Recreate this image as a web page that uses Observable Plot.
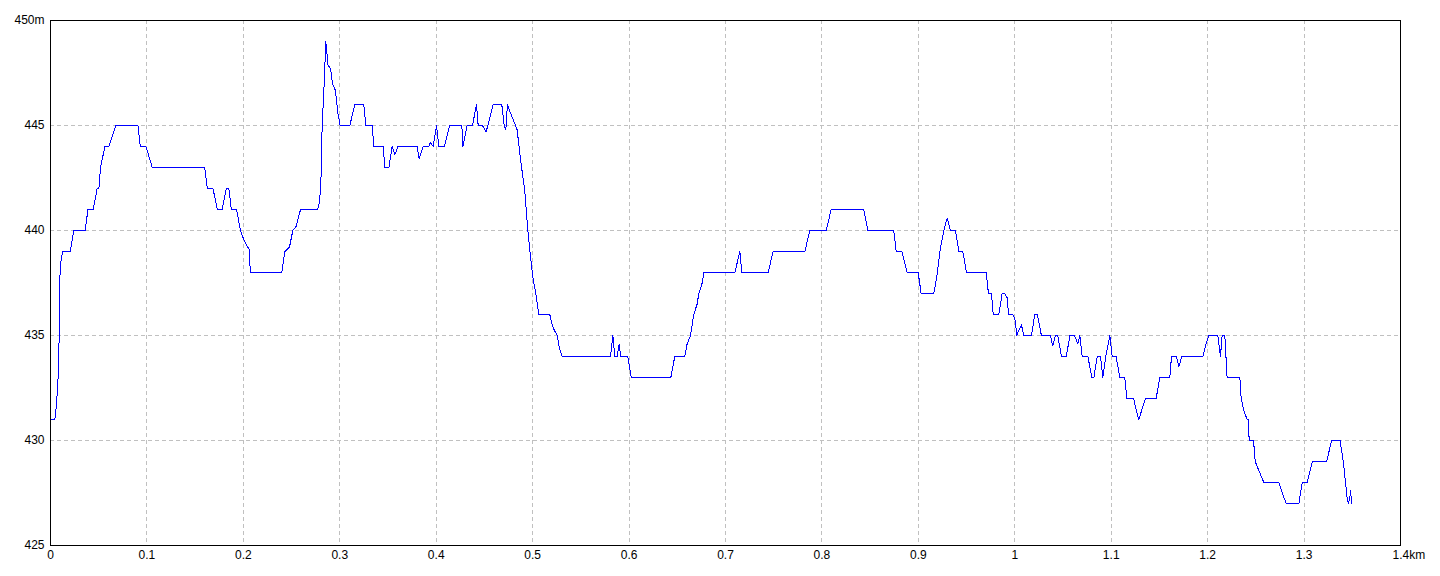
<!DOCTYPE html>
<html>
<head>
<meta charset="utf-8">
<script src="https://cdn.jsdelivr.net/npm/d3@7"></script>
<script src="https://cdn.jsdelivr.net/npm/@observablehq/plot@0.6"></script>
<style>
  html, body { margin: 0; padding: 0; background: #ffffff; }
  #chart { width: 1440px; height: 576px; }
</style>
</head>
<body>
<div id="chart"></div>
<script>
// Distance along the route (km)
const distKm = [
  0, 0.0045, 0.0062, 0.0076, 0.0087, 0.0093, 0.0100, 0.0111, 0.0125, 0.0204,
  0.0242, 0.0360, 0.0388, 0.0443, 0.0484, 0.0502, 0.0519, 0.0564, 0.0606, 0.0678,
  0.0907, 0.0931, 0.0990, 0.1055, 0.1599, 0.1626, 0.1685, 0.1730, 0.1779, 0.1824,
  0.1850, 0.1875, 0.1930, 0.1970, 0.2010, 0.2059, 0.2073, 0.2399, 0.2430, 0.2478,
  0.2513, 0.2548, 0.2593, 0.2772, 0.2790, 0.2803, 0.2810, 0.2817, 0.2828, 0.2841,
  0.2855, 0.2866, 0.2876, 0.2904, 0.2924, 0.2952, 0.2966, 0.2980, 0.3004, 0.3104,
  0.3156, 0.3249, 0.3270, 0.3336, 0.3353, 0.3450, 0.3467, 0.3509, 0.3543, 0.3571,
  0.3602, 0.3802, 0.3823, 0.3865, 0.3923, 0.3941, 0.3968, 0.4003, 0.4027, 0.4086,
  0.4138, 0.4266, 0.4276, 0.4321, 0.4376, 0.4418, 0.4435, 0.4480, 0.4518, 0.4591,
  0.4680, 0.4705, 0.4722, 0.4739, 0.4770, 0.4805, 0.4839, 0.4874, 0.4918, 0.4950,
  0.4977, 0.5001, 0.5029, 0.5064, 0.5178, 0.5196, 0.5220, 0.5254, 0.5278, 0.5306,
  0.5807, 0.5832, 0.5852, 0.5876, 0.5897, 0.5914, 0.5987, 0.6022, 0.6433, 0.6474,
  0.6578, 0.6602, 0.6637, 0.6671, 0.6706, 0.6723, 0.6758, 0.6775, 0.7097, 0.7149,
  0.7169, 0.7442, 0.7494, 0.7823, 0.7874, 0.8044, 0.8096, 0.8434, 0.8476, 0.8745,
  0.8770, 0.8828, 0.8884, 0.8998, 0.9029, 0.9160, 0.9195, 0.9223, 0.9264, 0.9299,
  0.9333, 0.9385, 0.9420, 0.9461, 0.9499, 0.9703, 0.9727, 0.9758, 0.9776, 0.9834,
  0.9869, 0.9893, 0.9921, 0.9935, 0.9980, 1.0007, 1.0018, 1.0069, 1.0094, 1.0173,
  1.0207, 1.0234, 1.0276, 1.0369, 1.0394, 1.0421, 1.0445, 1.0485, 1.0534, 1.0572,
  1.0620, 1.0654, 1.0675, 1.0699, 1.0758, 1.0799, 1.0820, 1.0855, 1.0889, 1.0913,
  1.0944, 1.0986, 1.1010, 1.1051, 1.1089, 1.1141, 1.1162, 1.1234, 1.1251, 1.1286,
  1.1355, 1.1466, 1.1504, 1.1608, 1.1625, 1.1677, 1.1701, 1.1732, 1.1950, 1.1977,
  1.2012, 1.2105, 1.2133, 1.2150, 1.2178, 1.2202, 1.2334, 1.2348, 1.2376, 1.2410,
  1.2420, 1.2431, 1.2476, 1.2493, 1.2528, 1.2583, 1.2739, 1.2773, 1.2815, 1.2946,
  1.2981, 1.3033, 1.3085, 1.3234, 1.3286, 1.3373, 1.3407, 1.3423, 1.3448, 1.3459,
  1.3475, 1.3482, 1.3493
];
// Elevation (m)
const elevM = [
  431, 431, 431.7, 432.7, 434.1, 436.4, 438.2, 438.6, 439, 439,
  440, 440, 441, 441, 442, 442, 443, 444, 444, 445,
  445, 444, 444, 443, 443, 442, 442, 441, 441, 442,
  442, 441, 441, 440, 439.5, 439.1, 438, 438, 439, 439.2,
  440, 440.2, 441, 441, 441.4, 442.2, 443.3, 444.95, 446, 447.3,
  449, 448.5, 447.9, 447.7, 447, 446.7, 446.2, 445.6, 445, 445,
  446, 446, 445, 445, 444, 444, 443, 443, 444, 443.6,
  444, 444, 443.4, 444, 444, 444.2, 444, 445, 444, 444,
  445, 445, 444, 445, 445, 446, 445, 445, 444.7, 446,
  446, 445, 444.8, 446, 445.6, 445.2, 444.8, 443.4, 441.9, 440,
  438.8, 437.8, 437.1, 436, 436, 435.6, 435.3, 435, 434.4, 434,
  434, 435, 434, 434, 434.6, 434, 434, 433, 433, 434,
  434, 434.6, 435, 436, 436.5, 437, 437.5, 438, 438, 439,
  438, 438, 439, 439, 440, 440, 441, 441, 440, 440,
  439, 439, 438, 438, 437, 437, 437.9, 439, 440, 440.6,
  440, 440, 439, 439, 438, 438, 437, 437, 436, 436,
  437, 437, 436.8, 436, 436, 435.7, 435, 435.5, 435, 435,
  436, 436, 435, 435, 434.5, 435, 435, 434, 434, 435,
  435, 434.6, 435, 434, 434, 433, 433, 434, 434, 433,
  434, 435, 434, 434, 433, 433, 432, 432, 431.6, 431,
  432, 432, 433, 433, 434, 434, 433.5, 434, 434, 434.5,
  435, 435, 434, 435, 435, 433, 433, 432, 431.4, 431,
  431, 430, 430, 429, 428.6, 428, 428, 427.5, 427, 427,
  428, 428, 429, 429, 430, 430, 429, 428.3, 427.2, 427,
  427.3, 427.6, 427
];
const xTicks = [0, 0.1, 0.2, 0.3, 0.4, 0.5, 0.6, 0.7, 0.8, 0.9, 1, 1.1, 1.2, 1.3, 1.4];
const yTicks = [425, 430, 435, 440, 445, 450];
const xUnit = "km";
const yUnit = "m";

const profile = distKm.map((d, i) => ({d, e: elevM[i]}));

const xFmt = v => d3.format("~g")(v);
const chart = Plot.plot({
  width: 1440,
  height: 576,
  marginLeft: 50,
  marginRight: 40,
  marginTop: 20,
  marginBottom: 31,
  x: {domain: [0, 1.4], label: null},
  y: {domain: [425, 450], label: null},
  style: {
    fontFamily: "'Liberation Sans Narrow', 'Liberation Sans', Arial, sans-serif",
    fontSize: "12px",
    color: "#000",
    background: "#fff",
    overflow: "visible"
  },
  marks: [
    Plot.gridX(xTicks.slice(1, -1), {stroke: "#c0c0c0", strokeOpacity: 1, strokeDasharray: "4,3", shapeRendering: "crispEdges"}),
    Plot.gridY(yTicks.slice(1, -1), {stroke: "#c0c0c0", strokeOpacity: 1, strokeDasharray: "4,3", shapeRendering: "crispEdges"}),
    Plot.line(profile, {x: "d", y: "e", stroke: "#0000ff", strokeWidth: 1, shapeRendering: "crispEdges"}),
    Plot.frame({stroke: "#000", strokeWidth: 1, shapeRendering: "crispEdges"}),
    Plot.axisY(yTicks, {label: null, tickSize: 0, tickPadding: 6, tickFormat: v => v === 450 ? v + yUnit : String(v), fill: "#000"}),
    Plot.axisX(xTicks.slice(0, -1), {label: null, tickSize: 0, tickPadding: 5, tickFormat: xFmt, fill: "#000"}),
    Plot.axisX([1.4], {label: null, tickSize: 0, tickPadding: 5, tickFormat: v => xFmt(v) + xUnit, textAnchor: "start", dx: -8, fill: "#000"})
  ]
});
document.getElementById("chart").appendChild(chart);
</script>
</body>
</html>
